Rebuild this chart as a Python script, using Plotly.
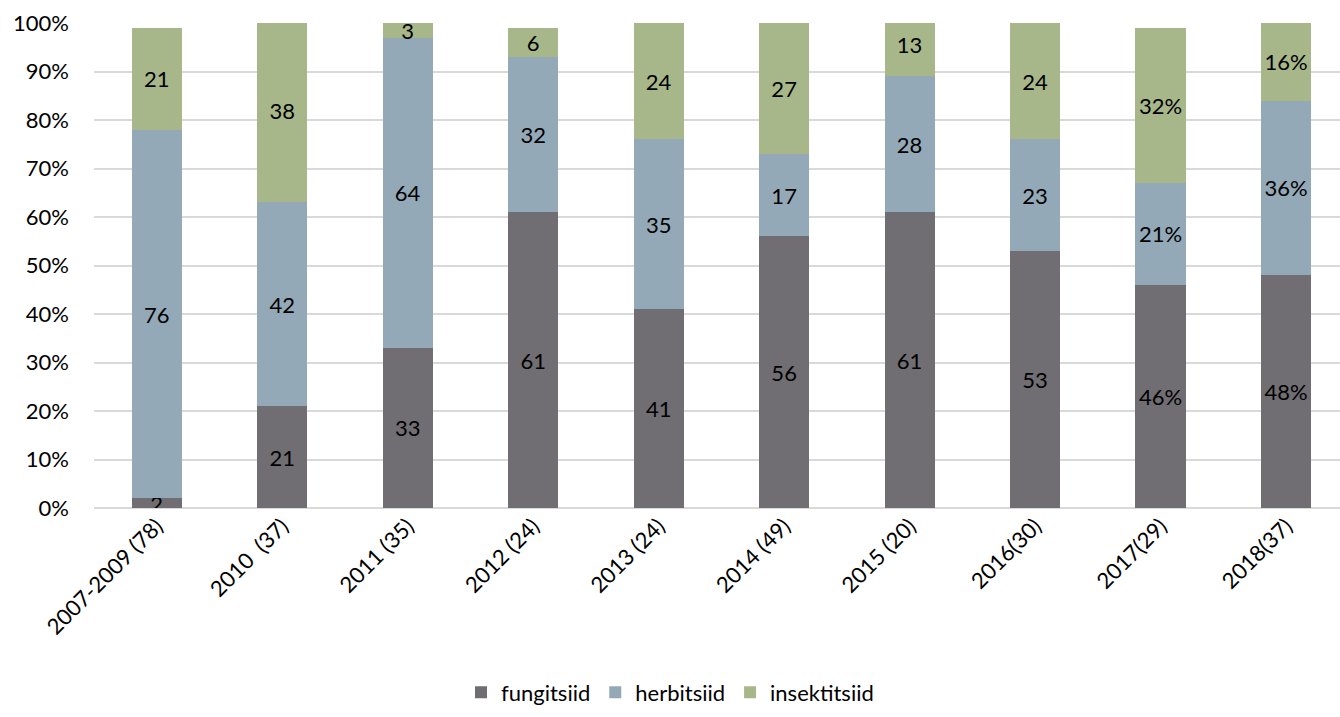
import plotly.graph_objects as go

# Aastad / perioodid (sulgudes proovide arv)
categories = ["2007-2009 (78)", "2010  (37)", "2011 (35)", "2012 (24)", "2013 (24)",
              "2014 (49)", "2015 (20)", "2016(30)", "2017(29)", "2018(37)"]

# Osakaal protsentides
fungitsiid = [2, 21, 33, 61, 41, 56, 61, 53, 46, 48]
herbitsiid = [76, 42, 64, 32, 35, 17, 28, 23, 21, 36]
insektitsiid = [21, 38, 3, 6, 24, 27, 13, 24, 32, 16]

# Kahe viimase aasta sildid on koos protsendimärgiga
pct_sign = [False] * 8 + [True] * 2

y_ticks = [0, 10, 20, 30, 40, 50, 60, 70, 80, 90, 100]

FONT = "Lato, Carlito, Calibri, sans-serif"
FSIZE = 22
series = [
    ("fungitsiid", fungitsiid, "#706e73"),
    ("herbitsiid", herbitsiid, "#93a9b8"),
    ("insektitsiid", insektitsiid, "#a8b78a"),
]

fig = go.Figure()
for name, vals, color in series:
    labels = [f"{v}%" if p else f"{v}" for v, p in zip(vals, pct_sign)]
    fig.add_trace(go.Bar(
        name=name,
        x=categories,
        y=vals,
        marker=dict(color=color, line=dict(width=0)),
        text=labels,
        textposition="inside",
        insidetextanchor="middle",
        textangle=0,
        constraintext="none",
        textfont=dict(family=FONT, size=FSIZE, color="#000000"),
        hoverinfo="x+y+name",
    ))

fig.update_layout(
    barmode="stack",
    bargap=0.6,
    width=1340,
    height=717,
    margin=dict(l=94, r=0, t=23, b=209),
    paper_bgcolor="white",
    plot_bgcolor="white",
    font=dict(family=FONT, size=FSIZE, color="#000000"),
    showlegend=True,
    legend=dict(
        orientation="h",
        xref="container", yref="container",
        x=0.5, xanchor="center",
        y=0.005, yanchor="bottom",
        font=dict(family=FONT, size=FSIZE, color="#000000"),
        itemwidth=30,
        traceorder="normal",
    ),
    xaxis=dict(
        range=[-0.5, 9.43],
        tickangle=-45,
        tickfont=dict(family=FONT, size=FSIZE),
        showgrid=False,
        showline=False,
        ticks="",
    ),
    yaxis=dict(
        range=[0, 100],
        tickvals=y_ticks,
        ticktext=[f"{t}%" for t in y_ticks],
        tickfont=dict(family=FONT, size=FSIZE),
        showgrid=True,
        gridcolor="#d9d9d9",
        gridwidth=2,
        zeroline=True,
        zerolinecolor="#d9d9d9",
        zerolinewidth=2,
        ticks="",
        ticklabelstandoff=24,
    ),
)

fig.write_html("out.html")
